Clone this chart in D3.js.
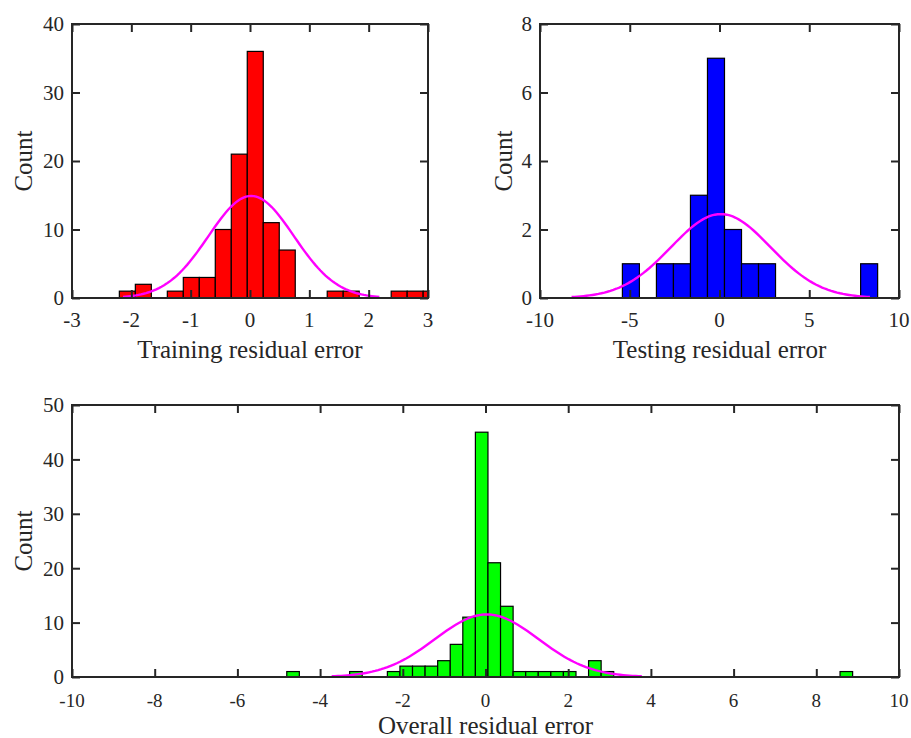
<!DOCTYPE html>
<html>
<head>
<meta charset="utf-8">
<script src="https://cdn.jsdelivr.net/npm/d3@7"></script>
<style>
  html, body { margin: 0; padding: 0; background: #fff; }
  svg { display: block; }
  text { font-family: "Liberation Serif", "Times New Roman", serif; fill: #262626; }
</style>
</head>
<body>
<svg id="chart" width="911" height="738"></svg>
<script>
// ---------- DATA ----------
// Training histogram
const trainBinStart = -2.202;
const trainBinWidth = 0.2695;
const trainCounts = [1, 2, 0, 1, 3, 3, 10, 21, 36, 11, 7, 0, 0, 1, 1, 0, 0, 1, 1, 1];
const trainFit = { mean: 0.02, sd: 0.72, peak: 14.9 };
const trainXTicks = [-3, -2, -1, 0, 1, 2, 3];
const trainYTicks = [0, 10, 20, 30, 40];

// Testing histogram
const testBinStart = -5.41;
const testBinWidth = 0.948;
const testCounts = [1, 0, 1, 1, 3, 7, 2, 1, 1, 0, 0, 0, 0, 0, 1];
const testFit = { mean: 0.07, sd: 2.77, peak: 2.45 };
const testXTicks = [-10, -5, 0, 5, 10];
const testYTicks = [0, 2, 4, 6, 8];

// Overall histogram
const allBinStart = -4.806;
const allBinWidth = 0.3041;
const allCounts = [1, 0, 0, 0, 0, 1, 0, 0, 1, 2, 2, 2, 3, 6, 11, 45, 21, 13, 1, 1, 1, 1, 1, 0, 3, 1,
                   0, 0, 0, 0, 0, 0, 0, 0, 0, 0, 0, 0, 0, 0, 0, 0, 0, 0, 1];
const allFit = { mean: 0.03, sd: 1.25, peak: 11.5 };
const allXTicks = [-10, -8, -6, -4, -2, 0, 2, 4, 6, 8, 10];
const allYTicks = [0, 10, 20, 30, 40, 50];

const panels = [
  { id: "a", box: [72, 24, 428, 298], xDom: [-3, 3], yDom: [0, 40], xTicks: trainXTicks, yTicks: trainYTicks,
    start: trainBinStart, width: trainBinWidth, counts: trainCounts, fit: trainFit, color: "#ff0000",
    xTitle: "Training residual error", tickBase: 327, tickFont: 21, titleBase: 358, titleFont: 25, countX: 23 },
  { id: "b", box: [540, 24, 899, 298], xDom: [-10, 10], yDom: [0, 8], xTicks: testXTicks, yTicks: testYTicks,
    start: testBinStart, width: testBinWidth, counts: testCounts, fit: testFit, color: "#0000ff",
    xTitle: "Testing residual error", tickBase: 327, tickFont: 21, titleBase: 358, titleFont: 25, countX: 503 },
  { id: "c", box: [72, 405, 899, 677], xDom: [-10, 10], yDom: [0, 50], xTicks: allXTicks, yTicks: allYTicks,
    start: allBinStart, width: allBinWidth, counts: allCounts, fit: allFit, color: "#00ff00",
    xTitle: "Overall residual error", tickBase: 707, tickFont: 19, titleBase: 734, titleFont: 25, countX: 23 }
];

const svg = d3.select("#chart");
const axisColor = "#262626";
const tickLen = 8;

panels.forEach(p => {
  const [x0, y0, x1, y1] = p.box;
  const x = d3.scaleLinear().domain(p.xDom).range([x0, x1]);
  const y = d3.scaleLinear().domain(p.yDom).range([y1, y0]);
  const g = svg.append("g");

  svg.append("defs").append("clipPath").attr("id", "clip-" + p.id)
    .append("rect").attr("x", x0).attr("y", y0 - 1).attr("width", x1 - x0).attr("height", y1 - y0 + 1);

  const bins = p.counts.map((c, i) => ({ lo: p.start + i * p.width, hi: p.start + (i + 1) * p.width, c }))
    .filter(d => d.c > 0);

  const plot = g.append("g").attr("clip-path", `url(#clip-${p.id})`);
  plot.selectAll("rect.bar").data(bins).enter().append("rect")
    .attr("class", "bar")
    .attr("x", d => x(d.lo))
    .attr("y", d => y(d.c))
    .attr("width", d => x(d.hi) - x(d.lo))
    .attr("height", d => y(0) - y(d.c))
    .attr("fill", p.color)
    .attr("stroke", "#000")
    .attr("stroke-width", 1.2);

  // fitted normal curve (mean ± 3 sd)
  const f = p.fit;
  const xs = d3.range(0, 101).map(i => f.mean - 3 * f.sd + i * 6 * f.sd / 100);
  const line = d3.line()
    .x(v => x(v))
    .y(v => y(f.peak * Math.exp(-0.5 * Math.pow((v - f.mean) / f.sd, 2))));
  plot.append("path").datum(xs).attr("d", line)
    .attr("fill", "none").attr("stroke", "#ff00ff").attr("stroke-width", 2.4);

  // axes (box with inner ticks on all four sides)
  const ax = g.append("g");
  const bottom = d3.axisBottom(x).tickValues(p.xTicks).tickSize(-tickLen).tickFormat("");
  const top = d3.axisTop(x).tickValues(p.xTicks).tickSize(-tickLen).tickFormat("");
  const left = d3.axisLeft(y).tickValues(p.yTicks).tickSize(-tickLen).tickFormat("");
  const right = d3.axisRight(y).tickValues(p.yTicks).tickSize(-tickLen).tickFormat("");
  [[bottom, `translate(0,${y1})`], [top, `translate(0,${y0})`], [left, `translate(${x0},0)`], [right, `translate(${x1},0)`]]
    .forEach(([a, t]) => {
      const s = ax.append("g").attr("transform", t).call(a);
      s.select(".domain").remove();
      s.selectAll(".tick line").attr("stroke", axisColor).attr("stroke-width", 2);
    });
  ax.append("rect").attr("x", x0).attr("y", y0).attr("width", x1 - x0).attr("height", y1 - y0)
    .attr("fill", "none").attr("stroke", axisColor).attr("stroke-width", 2);

  // tick labels (plain hyphen minus, as in the reference)
  ax.selectAll("text.xl").data(p.xTicks).enter().append("text")
    .attr("x", d => x(d)).attr("y", p.tickBase)
    .attr("text-anchor", "middle").style("font-size", p.tickFont + "px")
    .text(d => String(d));
  ax.selectAll("text.yl").data(p.yTicks).enter().append("text")
    .attr("x", x0 - 8).attr("y", d => y(d)).attr("dy", "0.35em")
    .attr("text-anchor", "end").style("font-size", "21px")
    .text(d => String(d));

  // titles
  ax.append("text").attr("x", (x0 + x1) / 2).attr("y", p.titleBase)
    .attr("text-anchor", "middle").style("font-size", p.titleFont + "px").text(p.xTitle);
  ax.append("text")
    .attr("transform", `translate(${p.countX},${(y0 + y1) / 2}) rotate(-90)`)
    .attr("dy", "0.35em").attr("text-anchor", "middle").style("font-size", "25px").text("Count");
});
</script>
</body>
</html>
